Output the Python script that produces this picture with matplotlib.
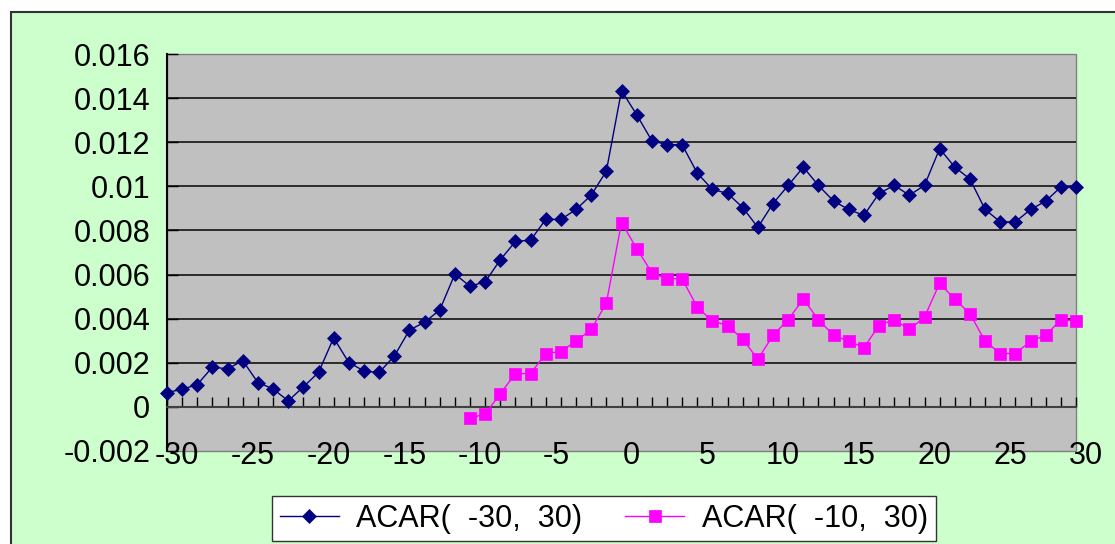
import matplotlib
matplotlib.use("Agg")
import matplotlib.pyplot as plt
import matplotlib.patches as mpatches
import matplotlib.transforms as mtransforms
import numpy as np

# Event-window days
days_long = list(range(-30, 31))
days_short = list(range(-10, 31))

# Average cumulative abnormal returns
acar_30_30 = [
    0.00065, 0.00080, 0.00101, 0.00181, 0.00172, 0.00210, 0.00110, 0.00082,
    0.00027, 0.00091, 0.00156, 0.00313, 0.00201, 0.00163, 0.00156, 0.00230,
    0.00348, 0.00384, 0.00439, 0.00602, 0.00547, 0.00567, 0.00667, 0.00750,
    0.00756, 0.00850, 0.00850, 0.00895, 0.00960, 0.01069, 0.01434, 0.01325,
    0.01207, 0.01189, 0.01189, 0.01060, 0.00986, 0.00968, 0.00904, 0.00814,
    0.00922, 0.01004, 0.01087, 0.01004, 0.00933, 0.00895, 0.00868, 0.00968,
    0.01004, 0.00960, 0.01004, 0.01171, 0.01087, 0.01033, 0.00895, 0.00839,
    0.00839, 0.00895, 0.00933, 0.00997, 0.00997,
]
acar_10_30 = [
    -0.00050, -0.00033, 0.00060, 0.00151, 0.00151, 0.00242, 0.00251, 0.00298,
    0.00351, 0.00470, 0.00836, 0.00718, 0.00609, 0.00581, 0.00581, 0.00452,
    0.00389, 0.00369, 0.00307, 0.00216, 0.00324, 0.00396, 0.00488, 0.00396,
    0.00324, 0.00298, 0.00269, 0.00369, 0.00396, 0.00351, 0.00407, 0.00561,
    0.00488, 0.00423, 0.00298, 0.00242, 0.00242, 0.00298, 0.00324, 0.00396,
    0.00389,
]

series_labels = ["ACAR(  -30,  30)", "ACAR(  -10,  30)"]

y_ticks = [-0.002, 0.0, 0.002, 0.004, 0.006, 0.008, 0.010, 0.012, 0.014, 0.016]
y_tick_labels = ["-0.002", "0", "0.002", "0.004", "0.006", "0.008",
                 "0.01", "0.012", "0.014", "0.016"]
x_label_ticks = [-30, -25, -20, -15, -10, -5, 0, 5, 10, 15, 20, 25, 30]
x_tick_labels = ["-30", "-25", "-20", "-15", "-10", "-5", "0",
                 "5", "10", "15", "20", "25", "30"]

plt.rcParams["font.family"] = ["Liberation Sans", "DejaVu Sans"]

W, H = 1115, 544
fig = plt.figure(figsize=(W / 100, H / 100), dpi=100, facecolor="white")

# Chart-area background panel with its dark outline
panel = mpatches.Rectangle((11 / W, -0.05), 1.2, 1 - 12 / H + 0.05,
                           transform=fig.transFigure, facecolor="#CCFFCC",
                           edgecolor="#333333", linewidth=1.5, zorder=-10)
fig.patches.append(panel)

ax = fig.add_axes([167 / W, 1 - 451 / H, 909 / W, 397 / H])
ax.set_zorder(1)
ax.set_facecolor("#C0C0C0")
ax.patch.set_edgecolor("#808080")
ax.patch.set_linewidth(1.0)

ax.set_xlim(-30, 30)
ax.set_ylim(-0.002, 0.016)

ax.plot(days_long, acar_30_30, color="#000080", linewidth=1.0, marker="D",
        markersize=6.8, markerfacecolor="#000080", markeredgecolor="#000080",
        markeredgewidth=0.5, label=series_labels[0], clip_on=False, zorder=4)
ax.plot(days_short, acar_10_30, color="#FF00FF", linewidth=1.0, marker="s",
        markersize=8, markerfacecolor="#FF00FF", markeredgecolor="#FF00FF",
        markeredgewidth=0.5, label=series_labels[1], clip_on=False, zorder=4)

# Spines: black value axis on the left, category axis crossing at zero
for side in ("top", "right"):
    ax.spines[side].set_visible(False)
ax.spines["left"].set_color("black")
ax.spines["left"].set_linewidth(1.5)
ax.spines["bottom"].set_position(("data", 0))
ax.spines["bottom"].set_color("#404040")
ax.spines["bottom"].set_linewidth(1.5)

# Category ticks at every day, pointing up from the zero line
ax.set_xticks(days_long)
ax.set_xticklabels([])
ax.tick_params(axis="x", direction="in", length=7.5, width=1.0,
               color="black", bottom=True, top=False)

# Value axis ticks and labels
ax.set_yticks(y_ticks)
ax.set_yticklabels(y_tick_labels, fontsize=22)
ax.tick_params(axis="y", direction="in", length=8, width=1.0, color="black",
               pad=12)

# Horizontal gridlines (not on the frame edges)
ax.yaxis.grid(True, color="#202020", linewidth=1.3)
ax.set_axisbelow(True)
for tick, val in zip(ax.yaxis.get_major_ticks(), y_ticks):
    if val in (y_ticks[0], y_ticks[-1]):
        tick.gridline.set_visible(False)

# Category labels sit at the bottom of the plot area
label_offset = mtransforms.ScaledTranslation(10 / 100, -1 / 100,
                                             fig.dpi_scale_trans)
for xv, txt in zip(x_label_ticks, x_tick_labels):
    ax.text(xv, y_ticks[0], txt, fontsize=22, ha="center",
            va="center_baseline", transform=ax.transData + label_offset,
            zorder=6, clip_on=False)

leg = fig.legend(loc="upper left", bbox_to_anchor=(272 / W, 1 - 496 / H),
                 ncol=2, fontsize=22, frameon=True, fancybox=False,
                 shadow=False, handlelength=1.93, handletextpad=0.58,
                 columnspacing=1.4, borderpad=0.25, borderaxespad=0.0)
leg.get_frame().set_facecolor("white")
leg.get_frame().set_edgecolor("#333333")
leg.get_frame().set_linewidth(1.0)
leg.get_frame().set_alpha(1.0)

fig.savefig("out.png", dpi=100, facecolor="white")
